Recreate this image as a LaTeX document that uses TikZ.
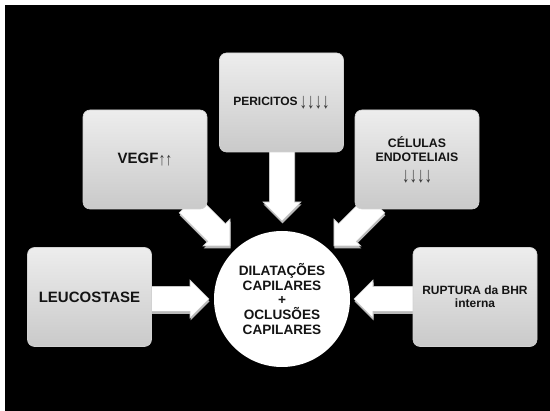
\documentclass[tikz,border=0pt]{standalone}
\usepackage{fontspec}
\setmainfont{Liberation Sans}
\usetikzlibrary{shadings}
\definecolor{txt}{HTML}{141414}
\definecolor{arrtxt}{HTML}{3A3A3A}
\tikzset{
  boxnode/.style={rounded corners=7pt, top color=gray!14, bottom color=gray!42,
    draw=gray!35, line width=0.6pt, minimum width=124pt, minimum height=99pt,
    align=center, text=txt, font=\bfseries\fontsize{12}{14}\selectfont, inner sep=2pt},
  arrbody/.style={fill=white, draw=gray!45, line width=0.6pt},
  arrshade/.style={fill=gray!55},
}
\newcommand\blockarr[3]{%
  \begin{scope}[shift={(#1)}, yshift=-2.5pt, xshift=0.5pt, rotate=#2]
    \fill[arrshade] (0,-12.5) -- ({#3-19},-12.5) -- ({#3-19},-19) -- (#3,0) -- ({#3-19},19) -- ({#3-19},12.5) -- (0,12.5) -- cycle;
  \end{scope}
  \begin{scope}[shift={(#1)}, rotate=#2]
    \filldraw[arrbody] (0,-12.5) -- ({#3-19},-12.5) -- ({#3-19},-19) -- (#3,0) -- ({#3-19},19) -- ({#3-19},12.5) -- (0,12.5) -- cycle;
  \end{scope}}
\newcommand\dnarr{\raisebox{-3pt}{\scalebox{1.25}[1.8]{\mdseries\fontsize{12}{12}\selectfont\color{arrtxt}↓↓↓↓}}}
\newcommand\uparr{\raisebox{-1.5pt}{\scalebox{1.15}[1.5]{\mdseries\fontsize{12}{12}\selectfont\color{arrtxt}↑↑}}}
\begin{document}
\begin{tikzpicture}[x=1pt,y=-1pt]
\useasboundingbox (0,0) rectangle (550,411);
\fill[white] (0,0) rectangle (550,411);
\fill[black] (5,5) rectangle (550,411);

% block arrows (drawn first, under boxes)
\coordinate (tl) at (148,299);
\coordinate (tr) at (416,299);
\coordinate (tt) at (282,148);
\coordinate (tv) at (188,204);
\coordinate (tc) at (376,204);
\blockarr{tl}{0}{61}
\blockarr{tr}{180}{62}
\blockarr{tt}{-90}{73}
\blockarr{tv}{-45}{59.4}
\blockarr{tc}{-135}{59.4}

% boxes
\node[boxnode] (peri) at (281.5,102.5) {PERICITOS\,\dnarr};
\node[boxnode, font=\bfseries\fontsize{15}{17}\selectfont] (vegf) at (145,159.5) {VEGF\uparr};
\node[boxnode, font=\bfseries\fontsize{12.3}{14.5}\selectfont] (cel) at (417,159.5) {CÉLULAS\\ENDOTELIAIS\\[3pt]\dnarr};
\node[boxnode, font=\bfseries\fontsize{15}{17}\selectfont] (leuco) at (89.5,297) {LEUCOSTASE};
\node[boxnode, font=\bfseries\fontsize{12}{13}\selectfont] (rup) at (475,297) {RUPTURA da BHR\\interna};

% central circle
\node[circle, fill=white, minimum size=136pt, inner sep=0pt, align=center, text=txt,
  font=\bfseries\fontsize{13.6}{14.6}\selectfont] (circ) at (282,299)
  {DILATAÇÕES\\CAPILARES\\+\\OCLUSÕES\\CAPILARES};
\end{tikzpicture}
\end{document}
